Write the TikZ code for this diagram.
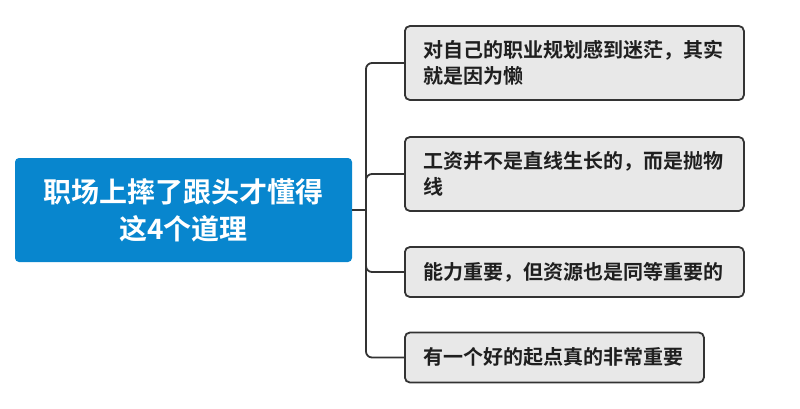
\documentclass[tikz,border=0pt]{standalone}
\usepackage{fontspec}
\setmainfont{Noto Sans CJK SC}[BoldFont={Noto Sans CJK SC Bold}]
\definecolor{rootblue}{RGB}{8,134,206}
\definecolor{childgray}{RGB}{232,232,232}
\definecolor{linegray}{RGB}{51,51,51}
\begin{document}
\begin{tikzpicture}[x=1pt,y=-1pt]
\tikzset{
 rootbox/.style={fill=rootblue, rounded corners=4pt, text=white, font=\fontsize{28}{37}\selectfont\bfseries, align=center, minimum width=337pt, minimum height=104pt, inner sep=0pt},
 childbox/.style={fill=childgray, draw=linegray, line width=1.8pt, rounded corners=5pt, text=black!88, font=\fontsize{20}{26}\selectfont\bfseries, align=left, inner xsep=19pt, inner ysep=0pt, anchor=west},
 conn/.style={draw=linegray, line width=1.8pt, rounded corners=6pt}
}
\useasboundingbox (0,0) rectangle (800,408);
\node[rootbox] (root) at (183.5,210) {职场上摔了跟头才懂得\\这4个道理};
\node[childbox, minimum width=339pt, minimum height=74pt, text width=301pt] (c1) at (404,63) {对自己的职业规划感到迷茫，其实\\就是因为懒};
\node[childbox, minimum width=339pt, minimum height=74pt, text width=301pt] (c2) at (404,174) {工资并不是直线生长的，而是抛物\\线};
\node[childbox, minimum width=339pt, minimum height=50pt, text width=301pt] (c3) at (404,272) {能力重要，但资源也是同等重要的};
\node[childbox, minimum width=299pt, minimum height=50pt, text width=261pt] (c4) at (404,357.5) {有一个好的起点真的非常重要};
\coordinate (j) at (366,210);
\draw[conn] (root.east) -- (j);
\draw[conn] (j) |- (c1.west);
\draw[conn] (j) |- (c2.west);
\draw[conn] (j) |- (c3.west);
\draw[conn] (j) |- (c4.west);
\end{tikzpicture}
\end{document}
